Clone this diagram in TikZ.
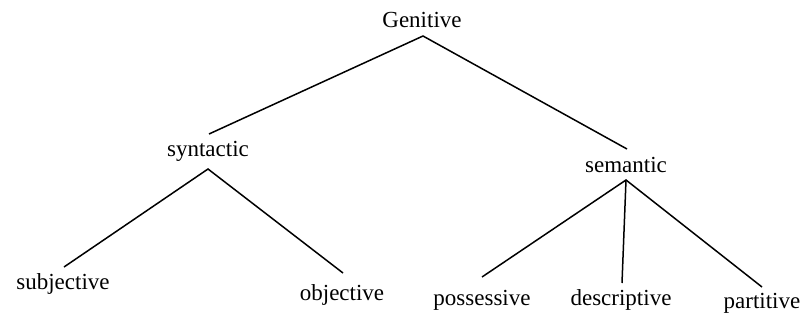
\documentclass[tikz,border=0pt]{standalone}
\usepackage{fontspec}
\setmainfont{Liberation Serif}
\begin{document}
\begin{tikzpicture}[x=1pt,y=-1pt,
  lbl/.style={anchor=base,inner sep=0pt,font=\fontsize{23}{28}\selectfont},
  edge/.style={line width=1.5pt}]
\useasboundingbox (0,0) rectangle (803,322);
\node[lbl] (gen) at (422,27) {Genitive};
\node[lbl] (syn) at (208,156) {syntactic};
\node[lbl] (sem) at (626,172) {semantic};
\node[lbl] (subj) at (63,289) {subjective};
\node[lbl] (obj) at (342,300) {objective};
\node[lbl] (poss) at (482,305) {possessive};
\node[lbl] (desc) at (621,305) {descriptive};
\node[lbl] (part) at (762,308) {partitive};
\coordinate (genB) at (423,36);
\coordinate (synT) at (209,134);
\coordinate (synB) at (208,169);
\coordinate (semT) at (627,149);
\coordinate (semB) at (626,180);
\coordinate (subjT) at (64,267);
\coordinate (objT) at (343,273);
\coordinate (possT) at (482,277);
\coordinate (descT) at (622,283);
\coordinate (partT) at (762,287);
\draw[edge] (synT) -- (genB) -- (semT);
\draw[edge] (subjT) -- (synB) -- (objT);
\draw[edge] (possT) -- (semB) -- (partT);
\draw[edge] (semB) -- (descT);
\end{tikzpicture}
\end{document}
